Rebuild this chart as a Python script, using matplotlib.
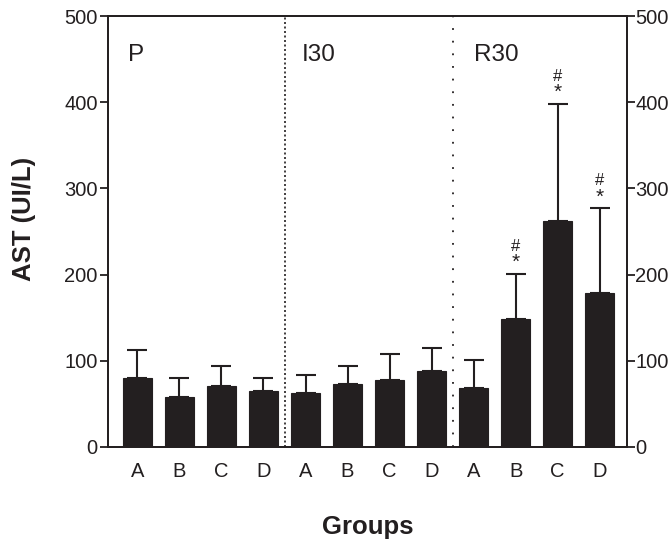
#!/usr/bin/env python3
import numpy as np
import matplotlib
matplotlib.use("Agg")
import matplotlib.pyplot as plt

# AST values
groups = ["P", "I30", "R30"]
subgroups = ["A", "B", "C", "D"]
means = [80, 58, 71, 65, 63, 73, 78, 88, 69, 148, 262, 179]
errors = [32, 22, 23, 15, 20, 21, 30, 27, 32, 53, 136, 98]
marked = [False, False, False, False, False, False, False, False, False, True, True, True]

plt.rcParams['font.family'] = ['Liberation Sans', 'DejaVu Sans']
dark = '#231f20'

fig = plt.figure(figsize=(6.7, 5.39), dpi=100)
ax = fig.add_axes([108 / 670, 1 - 447 / 539, 519 / 670, 431 / 539])

x = np.arange(len(means))
ax.bar(x, means, width=0.7, color=dark, edgecolor=dark, linewidth=0.8, zorder=2)
ax.errorbar(x, means, yerr=[np.zeros(len(errors)), errors], fmt='none',
            ecolor=dark, elinewidth=1.5, capsize=7, capthick=1.5, zorder=1)

# significance marks
for xi, m, e, flag in zip(x, means, errors, marked):
    if flag:
        ax.text(xi, m + e + 13, "*", ha='center', va='center', fontsize=15, color=dark)
        ax.text(xi, m + e + 32, "#", ha='center', va='center', fontsize=12, color=dark)

# group separators and labels
ax.axvline(3.5, color=dark, linestyle=(0, (1.2, 1.5)), linewidth=1.2)
ax.axvline(7.5, color=dark, linestyle=(0, (1, 6)), linewidth=1.3)
for xpos, g in zip([-0.23, 3.92, 8.0], groups):
    ax.text(xpos, 455, g, fontsize=17.5, ha='left', va='center', color=dark)

ax.set_xlim(-0.7, 11.65)
ax.set_ylim(0, 500)
ax.set_xticks(x)
ax.set_xticklabels(subgroups * 3, fontsize=14.5, color=dark)
ax.tick_params(axis='x', length=0, pad=11)
ax.set_yticks(range(0, 501, 100))
ax.tick_params(axis='y', direction='out', length=6, width=1.3, labelsize=14.5,
               colors=dark, pad=1.5)

ax2 = ax.twinx()
ax2.set_ylim(0, 500)
ax2.set_yticks(range(0, 501, 100))
ax2.tick_params(axis='y', direction='out', length=6, width=1.3, labelsize=14.5,
                colors=dark, pad=0)

for a in (ax, ax2):
    for s in a.spines.values():
        s.set_linewidth(1.3)
        s.set_color(dark)

fig.text(23.5 / 670, 1 - 219 / 539, "AST (UI/L)", rotation=90, ha='center',
         va='center', fontsize=18.5, fontweight='bold', color=dark)
fig.text(368 / 670, 1 - 527 / 539, "Groups", ha='center', va='center',
         fontsize=18.5, fontweight='bold', color=dark)

fig.savefig("out.png", dpi=100)
